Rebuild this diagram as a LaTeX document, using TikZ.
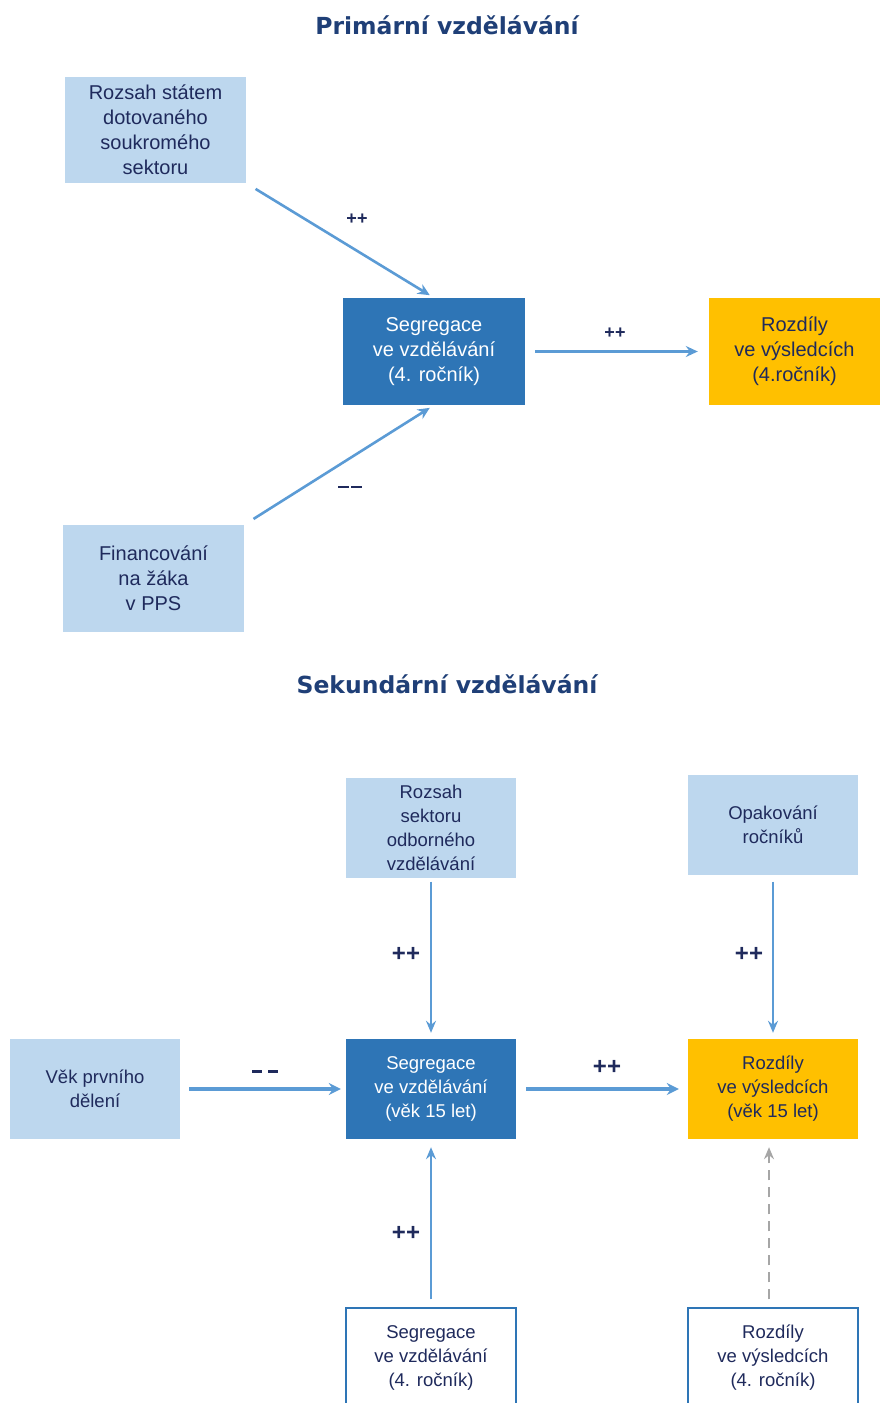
\documentclass[tikz,border=0pt]{standalone}
\usepackage{fontspec}
\setmainfont{Liberation Sans}
\newfontfamily\titlefont{DejaVu Sans}
\usetikzlibrary{arrows.meta}
\definecolor{lightbox}{HTML}{BDD7EE}
\definecolor{darkbox}{HTML}{2E75B6}
\definecolor{yellowbox}{HTML}{FFC000}
\definecolor{arrowcol}{HTML}{5B9BD5}
\definecolor{titlecol}{HTML}{1F3F77}
\definecolor{navytext}{HTML}{1F2A5C}
\definecolor{dashgray}{HTML}{A6A6A6}
\tikzset{
  boxbase/.style={rectangle, align=center, inner sep=0pt, text=navytext},
  pbox/.style={boxbase, font=\fontsize{20}{25}\selectfont},
  sbox/.style={boxbase, font=\fontsize{18.5}{24}\selectfont, minimum width=170pt, minimum height=100pt},
  lightnode/.style={fill=lightbox},
  darknode/.style={fill=darkbox, text=white},
  yellownode/.style={fill=yellowbox},
  whitenode/.style={draw=darkbox, line width=1.4pt, fill=white},
  conn/.style={draw=arrowcol, line width=2.6pt, -{Stealth[length=12pt,width=11pt,inset=4pt]}},
  vconn/.style={draw=arrowcol, line width=2.2pt, -{Stealth[length=12pt,width=10pt,inset=4pt]}},
  hconn/.style={draw=arrowcol, line width=3.2pt, -{Stealth[length=12pt,width=12pt,inset=4pt]}},
  dconn/.style={draw=dashgray, line width=2.4pt, dash pattern=on 10pt off 7pt, -{Stealth[length=12pt,width=10pt,inset=4pt]}},
  ptitle/.style={font=\titlefont\bfseries\fontsize{23.5}{28}\selectfont, text=titlecol},
  smalllab/.style={font=\bfseries\fontsize{18}{20}\selectfont, text=navytext},
  biglab/.style={font=\bfseries\fontsize{24}{26}\selectfont, text=navytext},
}
\begin{document}
\begin{tikzpicture}[x=1pt,y=-1pt]
\useasboundingbox (0,0) rectangle (880,1403);
\clip (0,0) rectangle (880,1403);
% ---------- Primary ----------
\node[ptitle] (t1) at (447,25) {Primární vzdělávání};
\node[pbox, lightnode, minimum width=181pt, minimum height=106pt] (A) at (155.5,130) {Rozsah státem\\dotovaného\\soukromého\\sektoru};
\node[pbox, lightnode, minimum width=181pt, minimum height=107pt] (F) at (153.5,578.5) {Financování\\na žáka\\v PPS};
\node[pbox, darknode, minimum width=182pt, minimum height=107pt] (S1) at (434,351.5) {Segregace\\ve vzdělávání\\(4. ročník)};
\node[pbox, yellownode, minimum width=171pt, minimum height=107pt] (R1) at (794.5,351.5) {Rozdíly\\ve výsledcích\\(4.ročník)};
\draw[conn, shorten <=11pt, shorten >=5pt] (A.south east) -- (S1.north);
\draw[conn, shorten <=11pt, shorten >=5pt] (F.north east) -- (S1.south);
\draw[conn, shorten <=10pt, shorten >=11pt] (S1.east) -- (R1.west);
\node[smalllab] (l1) at (357,219) {++};
\node[smalllab, text=navytext] (l2) at (350,487) {\rule{11pt}{1.3pt}\kern2pt\rule{11pt}{1.3pt}};
\node[smalllab] (l3) at (615,333) {++};
% ---------- Secondary ----------
\node[ptitle] (t2) at (447,684) {Sekundární vzdělávání};
\node[sbox, lightnode] (RS) at (431,827.5) {Rozsah\\sektoru\\odborného\\vzdělávání};
\node[sbox, lightnode] (OR) at (773,824.5) {Opakování\\ročníků};
\node[sbox, lightnode] (V) at (95,1089) {Věk prvního\\dělení};
\node[sbox, darknode] (S2) at (431,1089) {Segregace\\ve vzdělávání\\(věk 15 let)};
\node[sbox, yellownode] (R2) at (773,1089) {Rozdíly\\ve výsledcích\\(věk 15 let)};
\node[sbox, whitenode] (S3) at (431,1358) {Segregace\\ve vzdělávání\\(4. ročník)};
\node[sbox, whitenode] (R3) at (773,1358) {Rozdíly\\ve výsledcích\\(4. ročník)};
\draw[vconn, shorten <=4pt, shorten >=6pt] (RS.south) -- (S2.north);
\draw[vconn, shorten <=7pt, shorten >=6pt] (OR.south) -- (R2.north);
\draw[hconn, shorten <=9pt, shorten >=5pt] (V.east) -- (S2.west);
\draw[hconn, shorten <=10pt, shorten >=9pt] (S2.east) -- (R2.west);
\draw[vconn, line width=2.6pt, shorten <=8pt, shorten >=8pt] (S3.north) -- (S2.south);
\draw[dconn, shorten <=8pt, shorten >=8pt] ([xshift=-4pt]R3.north) -- ([xshift=-4pt]R2.south);
\node[biglab] (l4) at (406,954) {++};
\node[biglab] (l5) at (749,954) {++};
\node[biglab] (l6) at (265,1071) {\rule{10pt}{3pt}\kern6pt\rule{10pt}{3pt}};
\node[biglab] (l7) at (607,1067) {++};
\node[biglab] (l8) at (406,1233) {++};
\end{tikzpicture}
\end{document}
